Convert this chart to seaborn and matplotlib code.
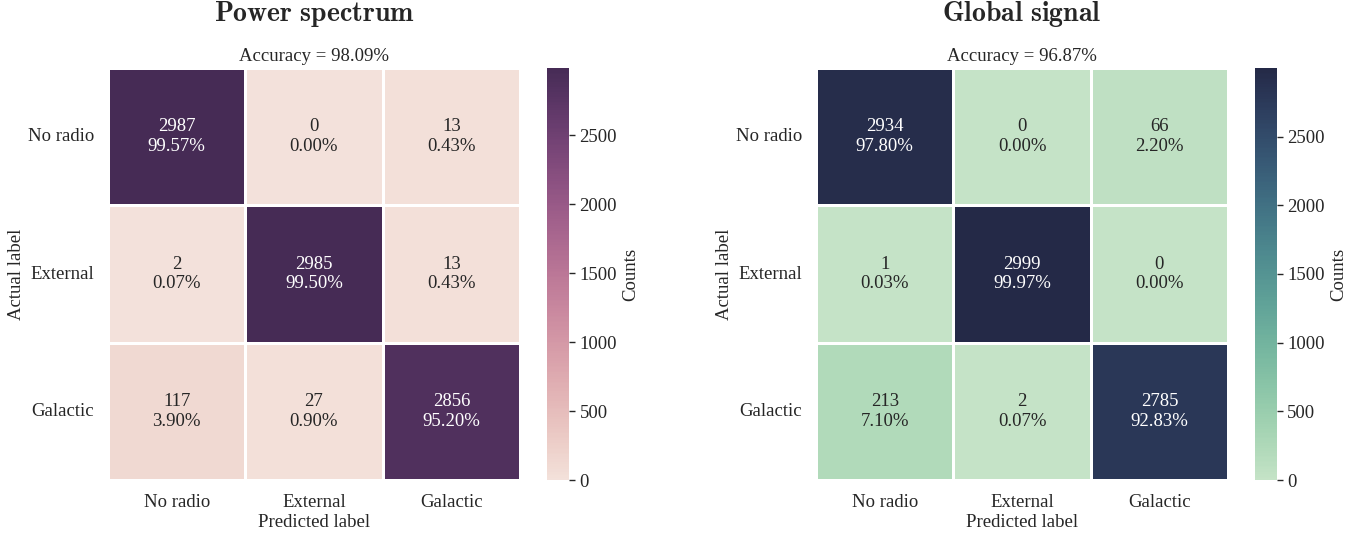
import numpy as np
import seaborn as sns
import matplotlib.pyplot as plt

labels = ["No radio", "External", "Galactic"]
titles = ["Power spectrum", "Global signal"]

cm_power = np.array([[2987, 0, 13],
                     [2, 2985, 13],
                     [117, 27, 2856]])
cm_global = np.array([[2934, 0, 66],
                      [1, 2999, 0],
                      [213, 2, 2785]])

sns.set_theme(style="white")
plt.rcParams["font.family"] = ["Liberation Serif", "DejaVu Serif"]
plt.rcParams["mathtext.fontset"] = "cm"
fs = 13.5

cmaps = [
    sns.cubehelix_palette(light=.9, dark=.22, as_cmap=True),
    sns.cubehelix_palette(start=.15, rot=-.48, light=.84, dark=.17, as_cmap=True),
]

fig = plt.figure(figsize=(13.72, 5.38), dpi=100)
rects = [(0.0787, 0.1078, 0.3003, 0.7658), (0.5948, 0.1078, 0.3003, 0.7658)]
cbar_rects = [(0.3987, 0.1078, 0.016, 0.7658), (0.9147, 0.1078, 0.016, 0.7658)]

for cm, title, cmap, r, cr in zip([cm_power, cm_global], titles, cmaps, rects, cbar_rects):
    ax = fig.add_axes(r)
    cax = fig.add_axes(cr)
    pct = cm / cm.sum(axis=1, keepdims=True) * 100
    annot = np.array([[f"{c}\n{p:.2f}%" for c, p in zip(rc, rp)] for rc, rp in zip(cm, pct)])
    sns.heatmap(cm, annot=annot, fmt="", cmap=cmap, linewidths=0.8, linecolor="white",
                xticklabels=labels, yticklabels=labels, ax=ax, cbar_ax=cax,
                cbar_kws={"label": "Counts"}, annot_kws={"fontsize": fs})
    acc = np.trace(cm) / cm.sum() * 100
    ax.set_title(f"Accuracy = {acc:.2f}%", fontsize=fs, pad=5)
    ax.text(0.5, 1.131, r"$\mathbf{" + title.replace(" ", r"\ ") + "}$",
            transform=ax.transAxes, ha="center", va="center", fontsize=20)
    ax.set_xlabel("Predicted label", fontsize=fs, labelpad=2)
    ax.set_ylabel("Actual label", fontsize=fs, labelpad=2)
    ax.tick_params(axis="both", labelsize=fs, length=0, pad=10)
    ax.set_yticklabels(labels, rotation=0)
    cax.tick_params(labelsize=fs, length=4, width=1, right=True)
    cax.set_ylabel("Counts", fontsize=fs)

fig.savefig("out.png", dpi=100)
